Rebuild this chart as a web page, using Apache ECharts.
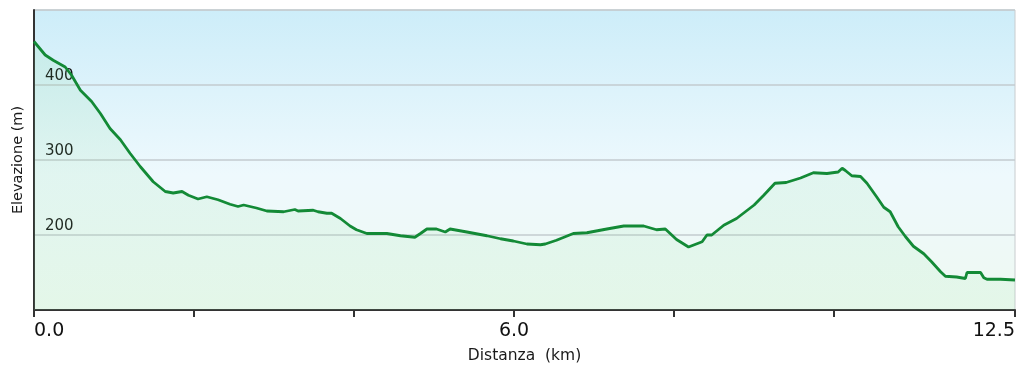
<!DOCTYPE html>
<html>
<head>
<meta charset="utf-8">
<script src="https://cdn.jsdelivr.net/npm/echarts@6/dist/echarts.min.js"></script>
<style>
html,body{margin:0;padding:0;background:#fff;}
#chart{width:1024px;height:372px;}
</style>
</head>
<body>
<div id="chart"></div>
<script>
const distanceKm = [0,0.14,0.24,0.39,0.47,0.58,0.72,0.83,0.95,1.08,1.20,1.33,1.49,1.64,1.74,1.85,1.93,2.05,2.16,2.30,2.45,2.55,2.62,2.78,2.91,3.12,3.26,3.30,3.49,3.55,3.66,3.72,3.83,3.95,4.03,4.16,4.41,4.58,4.76,4.83,4.91,5.03,5.14,5.20,5.41,5.66,5.83,5.99,6.16,6.33,6.39,6.53,6.74,6.91,7.16,7.37,7.49,7.62,7.78,7.89,8.03,8.18,8.35,8.41,8.47,8.62,8.78,9.00,9.12,9.26,9.40,9.58,9.74,9.91,10.05,10.10,10.14,10.22,10.33,10.41,10.53,10.62,10.70,10.80,10.89,10.99,11.12,11.22,11.33,11.39,11.53,11.64,11.66,11.83,11.87,11.91,12.08,12.26];
const elevationM = [458,440,433,424,413,393,378,362,342,327,309,291,271,258,256,258,253,248,251,247,241,238,240,236,232,231,234,232,233,231,229,229,222,212,207,202,202,199,197,202,208,208,204,208,204,199,195,192,188,187,188,193,202,203,208,212,212,212,207,208,194,184,191,200,200,213,222,240,253,269,270,276,283,282,284,289,286,279,278,269,251,237,231,211,198,185,175,164,151,145,144,142,150,150,143,141,141,140];
const xTickValues = [0,2,4,6,8,10,12.26];
const xLabelValues = [0,6,12.26];
const xLabelTexts = ['0.0','6.0','12.5'];
const yLabelValues = [200,300,400];

const chart = echarts.init(document.getElementById('chart'));
const data = distanceKm.map((d,i)=>[d, elevationM[i]]);
chart.setOption({
  animation:false,
  backgroundColor:'#ffffff',
  grid:{left:34,right:9,top:10,bottom:62,show:true,borderColor:'#c8ccce',borderWidth:1,
    backgroundColor:new echarts.graphic.LinearGradient(0,0,0,1,[
      {offset:0,color:'#cdedf9'},
      {offset:0.55,color:'#eef9fd'},
      {offset:1,color:'#eef9f1'}])},
  xAxis:{type:'value',min:0,max:12.26,
    name:'Distanza  (km)',nameLocation:'middle',nameGap:38,
    nameTextStyle:{fontFamily:'DejaVu Sans',fontSize:15.5,color:'#1a1a1a'},
    axisLine:{lineStyle:{color:'#333',width:2}},
    axisTick:{show:true,length:7,customValues:xTickValues,lineStyle:{color:'#333',width:2}},
    axisLabel:{customValues:xLabelValues,margin:12,fontFamily:'DejaVu Sans',fontSize:19,color:'#111',
      alignMinLabel:'left',alignMaxLabel:'right',
      formatter:function(v){const i=xLabelValues.findIndex(x=>Math.abs(x-v)<1e-6);return i>=0?xLabelTexts[i]:'';}},
    splitLine:{show:false}},
  yAxis:{type:'value',min:100,max:500,interval:100,
    name:'Elevazione (m)',nameLocation:'middle',nameGap:6,
    nameTextStyle:{fontFamily:'DejaVu Sans',fontSize:14.5,color:'#1a1a1a'},
    axisLine:{show:true,lineStyle:{color:'#333',width:2}},
    axisTick:{show:false},
    axisLabel:{inside:true,customValues:yLabelValues,margin:11,verticalAlign:'bottom',padding:[0,0,1,0],
      fontFamily:'DejaVu Sans',fontSize:15,color:'#111'},
    splitLine:{show:true,lineStyle:{color:'#c3cbcf',width:1.5}}},
  series:[{type:'line',data:data,showSymbol:false,smooth:false,
    lineStyle:{color:'#138a36',width:2.8},
    areaStyle:{color:new echarts.graphic.LinearGradient(0,0,0,1,[
      {offset:0,color:'rgba(120,210,140,0.2)'},
      {offset:1,color:'rgba(150,228,165,0.16)'}])},
    z:3}]
});
</script>
</body>
</html>
